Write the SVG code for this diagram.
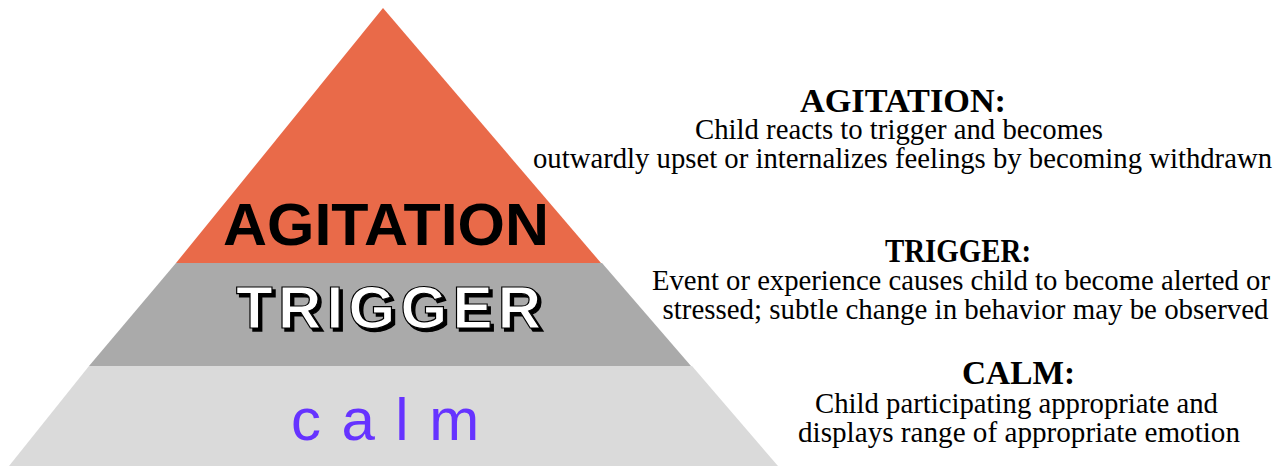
<svg xmlns="http://www.w3.org/2000/svg" width="1281" height="466" viewBox="0 0 1281 466">
  <style>
    .tier-label { font-family: "Liberation Sans", Arial, sans-serif; font-size: 60px; }
    .head { font-family: "Liberation Serif", "Times New Roman", serif; font-weight: bold; font-size: 33px; fill: #000; text-anchor: middle; }
    .desc { font-family: "Liberation Serif", "Times New Roman", serif; font-size: 29px; fill: #000; text-anchor: middle; }
  </style>
  <rect width="1281" height="466" fill="#ffffff"/>

  <!-- pyramid tiers -->
  <g id="tier-agitation">
    <polygon points="383,8 601,263 176,263" fill="#E96A49"/>
    <text class="tier-label" x="386" y="245" text-anchor="middle" font-weight="bold" fill="#000" textLength="326" lengthAdjust="spacingAndGlyphs">AGITATION</text>
  </g>
  <g id="tier-trigger">
    <polygon points="176,263 602,263 691,366 89,366" fill="#AAAAAA"/>
    <text class="tier-label" x="239" y="331" font-weight="bold" letter-spacing="5.3" fill="#000" stroke="#000" stroke-width="1.5">TRIGGER</text>
    <text class="tier-label" x="236" y="328" font-weight="bold" letter-spacing="5.3" fill="#ffffff" stroke="#000" stroke-width="1.2">TRIGGER</text>
  </g>
  <g id="tier-calm">
    <polygon points="89,366 692,366 778,466 9,466" fill="#DADADA"/>
    <text class="tier-label" x="291" y="440" letter-spacing="20.5" fill="#6633FF">calm</text>
  </g>

  <!-- descriptions -->
  <g id="desc-agitation">
    <text class="head" x="903" y="112" textLength="206" lengthAdjust="spacingAndGlyphs">AGITATION:</text>
    <text class="desc" x="899" y="139" textLength="408" lengthAdjust="spacingAndGlyphs">Child reacts to trigger and becomes</text>
    <text class="desc" x="902.5" y="168" textLength="739" lengthAdjust="spacingAndGlyphs">outwardly upset or internalizes feelings by becoming withdrawn</text>
  </g>
  <g id="desc-trigger">
    <text class="head" x="958" y="262" textLength="146" lengthAdjust="spacingAndGlyphs">TRIGGER:</text>
    <text class="desc" x="961" y="290" textLength="618" lengthAdjust="spacingAndGlyphs">Event or experience causes child to become alerted or</text>
    <text class="desc" x="965.5" y="319" textLength="606" lengthAdjust="spacingAndGlyphs">stressed; subtle change in behavior may be observed</text>
  </g>
  <g id="desc-calm">
    <text class="head" x="1018.5" y="384" textLength="113" lengthAdjust="spacingAndGlyphs">CALM:</text>
    <text class="desc" x="1016.5" y="413" textLength="403" lengthAdjust="spacingAndGlyphs">Child participating appropriate and</text>
    <text class="desc" x="1019" y="442" textLength="442" lengthAdjust="spacingAndGlyphs">displays range of appropriate emotion</text>
  </g>
</svg>
